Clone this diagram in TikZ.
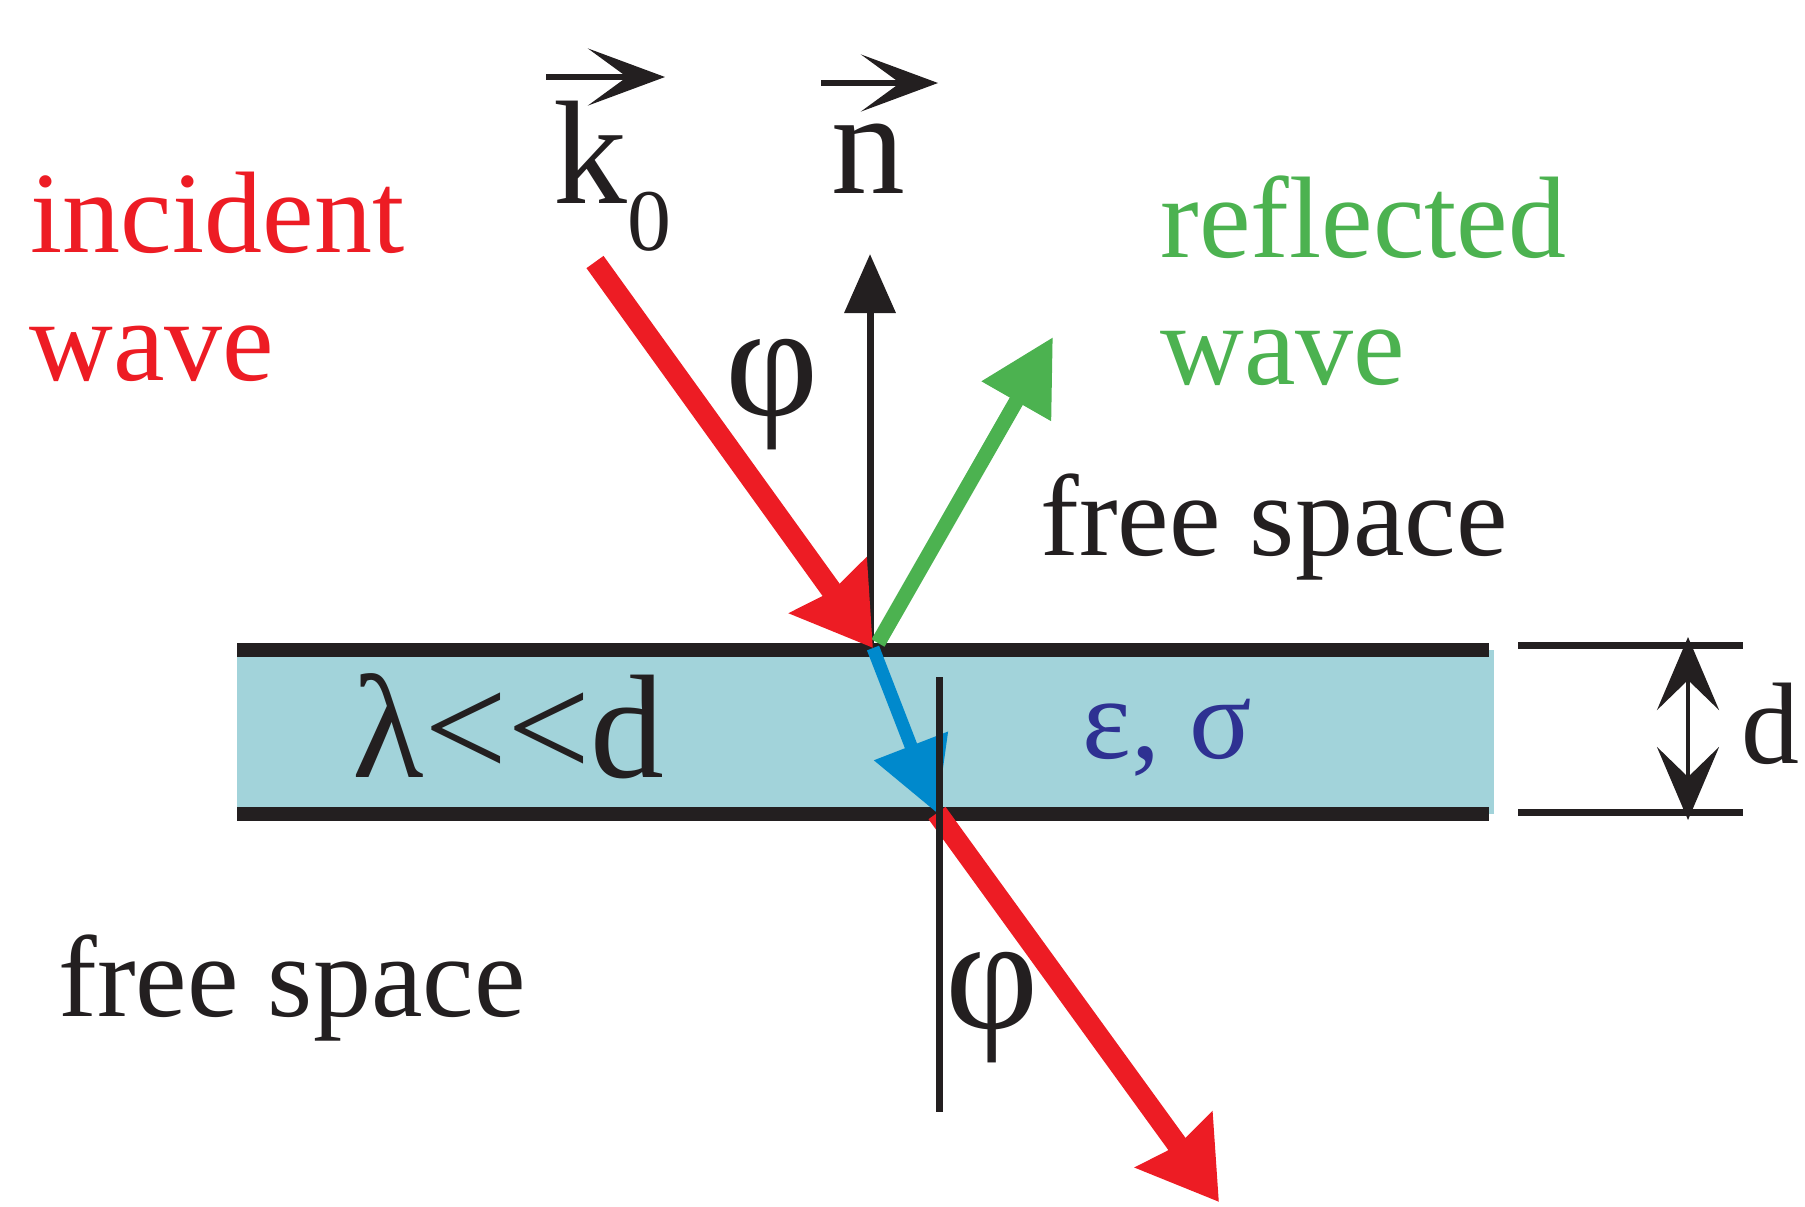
\documentclass[tikz,border=0pt]{standalone}
\usepackage{fontspec}
\setmainfont{Liberation Serif}
\usetikzlibrary{positioning, calc, arrows.meta}
\definecolor{inkblack}{RGB}{35,31,32}
\definecolor{wavered}{RGB}{237,28,36}
\definecolor{wavegreen}{RGB}{76,178,80}
\definecolor{waveblue}{RGB}{0,137,204}
\definecolor{slabcyan}{RGB}{162,211,218}
\definecolor{matnavy}{RGB}{46,49,146}
\tikzset{
  % Labels
  bigtext/.style   = { inner sep=0, text=inkblack, font=\fontsize{33}{36}\selectfont },
  veclabel/.style  = { inner sep=0, text=inkblack, font=\fontsize{42}{46}\selectfont },
  anglelabel/.style= { inner sep=0, text=inkblack, font=\fontsize{46}{50}\selectfont },
  vecarrow/.style  = { inkblack, line width=0.06cm, -{Stealth[length=0.77cm, width=0.57cm, inset=0.39cm]} },
  % Rays
  incray/.style    = { wavered, line width=0.21cm, -{Stealth[length=0.76cm, width=0.92cm, inset=0.06cm]} },
  refray/.style    = { wavegreen, line width=0.15cm, -{Triangle[length=0.74cm, width=0.76cm]} },
  inray/.style     = { waveblue, line width=0.13cm, -{Triangle[length=0.72cm, width=0.76cm]} },
  normalline/.style= { inkblack, line width=0.07cm },
  % Slab
  slabedge/.style  = { inkblack, line width=0.14cm },
  dimline/.style   = { inkblack, line width=0.07cm },
  dimarrow/.style  = { inkblack, line width=0.045cm,
                       {Stealth[length=0.73cm, width=0.62cm, inset=0.3cm]}-{Stealth[length=0.73cm, width=0.62cm, inset=0.3cm]} }
}

\begin{document}
\begin{tikzpicture}

  \useasboundingbox (0,0) rectangle (18.05,-12.06);

  % --- slab -----------------------------------------------------------
  \fill[slabcyan] (2.37,-6.50) rectangle (14.94,-8.14);
  \draw[slabedge] (2.37,-6.50) -- (14.89,-6.50);
  \draw[slabedge] (2.37,-8.14) -- (14.89,-8.14);

  \node[veclabel, anchor=base west] (ratio) at (3.52,-7.77) {λ<{}<d};
  \node[bigtext, text=matnavy, anchor=base west] (material) at (10.82,-7.58) {ε, σ};

  % --- thickness dimension --------------------------------------------
  \coordinate (dtopL) at (15.18,-6.45);
  \coordinate (dtopR) at (17.43,-6.45);
  \coordinate (dbotL) at (15.18,-8.12);
  \coordinate (dbotR) at (17.43,-8.12);
  \draw[dimline] (dtopL) -- (dtopR);
  \draw[dimline] (dbotL) -- (dbotR);
  \coordinate (dtip1) at (16.88,-6.37);
  \coordinate (dtip2) at (16.88,-8.20);
  \draw[dimarrow] (dtip1) -- (dtip2);
  \node[bigtext, anchor=base west] (thick) at (17.41,-7.63) {d};

  % --- rays -----------------------------------------------------------
  \coordinate (src)  at (5.95,-2.62);
  \coordinate (hit)  at (8.73,-6.48);
  \coordinate (exit) at (9.37,-8.13);
  \coordinate (out)  at (12.19,-12.02);
  \coordinate (rbase) at (8.78,-6.43);
  \coordinate (rtip)  at (10.53,-3.37);
  \coordinate (nbase) at (8.70,-6.45);
  \coordinate (ntip)  at (8.70,-2.54);
  \coordinate (ltop)  at (9.39,-6.77);
  \coordinate (lbot)  at (9.39,-11.12);

  \draw[normalline, -{Triangle[length=0.59cm, width=0.5cm]}] (nbase) -- (ntip);
  \draw[refray] (rbase) -- (rtip);
  \draw[incray] (src) -- (hit);
  \draw[inray]  (hit) -- (exit);
  \draw[incray] (exit) -- (out);
  \draw[normalline] (ltop) -- (lbot);

  % --- labels ---------------------------------------------------------
  \node[bigtext, text=wavered, anchor=base west] (inc) at (0.30,-2.52) {incident};
  \node[bigtext, text=wavered, anchor=base west] (incw) at (0.29,-3.80) {wave};
  \node[bigtext, text=wavegreen, anchor=base west] (refl) at (11.60,-2.57) {reflected};
  \node[bigtext, text=wavegreen, anchor=base west] (reflw) at (11.60,-3.84) {wave};
  \node[bigtext, anchor=base west] (freeup) at (10.40,-5.55) {free space};
  \node[bigtext, anchor=base west] (freelow) at (0.58,-10.16) {free space};

  \node[anglelabel] (phiup) at (7.72,-3.95) {φ};
  \node[anglelabel] (philow) at (9.92,-10.08) {φ};

  \node[veclabel, anchor=base west] (kvec) at (5.53,-2.03)
    {k\raisebox{-13.4pt}{\fontsize{25}{25}\selectfont 0}};
  \node[veclabel, anchor=base west] (nvec) at (8.31,-1.93) {n};
  \draw[vecarrow] ([shift={(-0.07,1.26)}]kvec.base west) -- ++(1.19,0);
  \draw[vecarrow] ([shift={(-0.10,1.10)}]nvec.base west) -- ++(1.17,0);

\end{tikzpicture}
\end{document}
